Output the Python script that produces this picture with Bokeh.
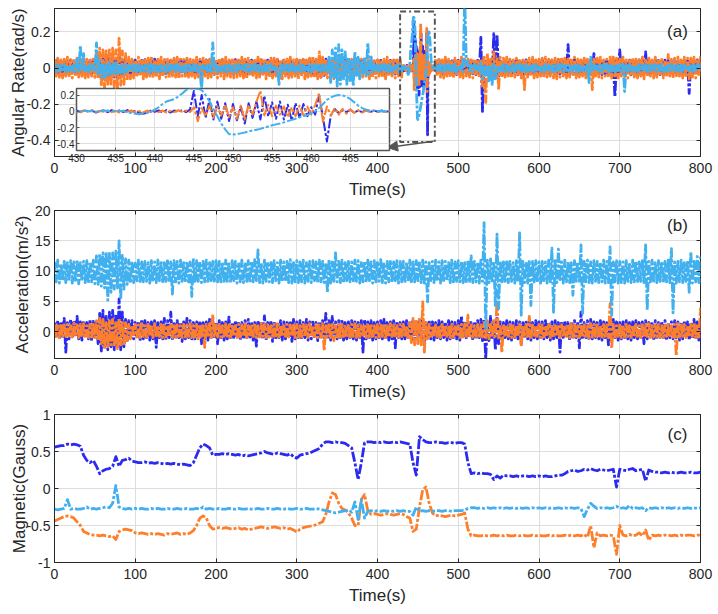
import numpy as np
from bokeh.plotting import figure
from bokeh.layouts import column
from bokeh.models import (Range1d, LinearAxis, FixedTicker, CustomJSTickFormatter,
                          Legend, LegendItem, Label, BoxAnnotation, Arrow, NormalHead)
from bokeh.embed import file_html
from bokeh.resources import INLINE

FONT = "Liberation Sans"
INK = "#262626"
GRID = "#dedede"
C_X, C_Y, C_Z = "#2b2bf0", "#fd7f2b", "#41b0ef"
DASH = "10 2 3 2"

# ---------------- gyroscope (mrad/s) ----------------
# per 4 s bin: local maximum (_hi) and minimum (_lo); 0-428 s and 472-800 s
gyro_x_pre_hi = [40,45,38,42,40,45,40,42,45,38,44,40,42,
                 50,55,60,65,55,60,55,65,50,45,40,
                 40,44,38,42,46,40,45,50,42,40,45,38,42,44,40,46,42,45,40,38,44,42,40,45,42,40,44,
                 40,45,38,44,40,46,40,42,45,40,44,40,42,45,38,44,40,42,46,40,44,38,42,40,45,
                 42,45,40,50,45,48,55,45,50,42,40,45,42,40,45,40,42,48,50,45,40,42,46,40,44,42,40,45,42,40,44,40]
gyro_x_pre_lo = [-30,-35,-28,-33,-30,-35,-32,-30,-28,-34,-30,-35,-32,
                 -40,-45,-50,-55,-45,-50,-55,-45,-40,-38,-35,
                 -32,-30,-35,-30,-34,-30,-35,-38,-30,-35,-40,-30,-33,-30,-35,-32,-30,-34,-36,-30,-35,-32,-30,-34,-30,-35,-32,
                 -30,-35,-32,-30,-36,-30,-34,-30,-36,-32,-35,-30,-38,-32,-30,-35,-33,-30,-36,-32,-30,-35,-30,-34,-32,
                 -32,-35,-30,-40,-35,-45,-50,-40,-35,-32,-30,-36,-32,-30,-35,-30,-32,-38,-35,-30,-32,-36,-30,-34,-32,-30,-35,-32,-30,-34,-32,-30]
gyro_x_post_hi = [40,45,42,40,45,40,44,42,40,45,42,40,44,42,
                  170,50,45,40,190,185,40,
                  40,45,42,40,45,40,42,45,40,44,42,40,45,40,42,44,40,45,42,40,
                  130,
                  42,45,40,42,44,40,45,80,42,40,44,42,45,
                  40,
                  42,100,45,40,44,42,40,45,42,90,42,40,45,42,40,44,42,40,45,42,40,44,
                  40,
                  40,42,45,40]
gyro_x_post_lo = [-35,-30,-38,-32,-35,-30,-36,-32,-35,-30,-38,-32,-36,-30,
                  -240,-45,-40,-50,-50,-45,-40,
                  -35,-30,-36,-32,-38,-30,-35,-32,-30,-36,-32,-35,-30,-36,-32,-30,-35,-32,-30,-36,
                  -35,
                  -30,-38,-32,-35,-30,-36,-32,-35,-30,-36,-32,-35,-30,
                  -160,
                  -35,-30,-36,-32,-38,-30,-35,-32,-30,-36,-32,-35,-30,-36,-32,-30,-35,-32,-30,-36,-32,-30,
                  -140,
                  -35,-30,-32,-35]

gyro_y_pre_hi = [50,55,45,50,60,45,50,55,48,52,50,55,50,
                 90,110,100,95,100,110,100,165,95,80,60,
                 50,45,60,50,45,55,65,45,50,60,55,50,45,55,60,50,48,55,50,45,60,50,55,45,50,55,50,
                 55,50,60,45,55,50,45,60,50,55,45,50,60,55,50,45,55,55,50,45,55,50,60,45,50,
                 55,50,45,55,65,50,90,60,50,45,55,50,60,50,45,55,50,60,45,50,55,45,60,50,55,45,50,60,50,45,55,50]
gyro_y_pre_lo = [-45,-50,-55,-45,-50,-55,-48,-50,-45,-55,-50,-45,-52,
                 -60,-100,-110,-90,-100,-105,-110,-95,-90,-70,-60,
                 -55,-50,-45,-60,-50,-45,-55,-50,-60,-45,-50,-55,-45,-50,-60,-45,-55,-50,-45,-55,-50,-60,-45,-55,-50,-45,-55,
                 -45,-60,-45,-50,-55,-50,-45,-55,-60,-45,-50,-55,-50,-45,-60,-50,-55,-45,-50,-60,-45,-55,-50,-45,-60,
                 -45,-60,-50,-45,-55,-60,-50,-45,-55,-50,-60,-45,-50,-55,-45,-60,-50,-45,-55,-50,-45,-60,-50,-55,-45,-50,-60,-45,-50,-55,-45,-50]
gyro_y_post_hi = [50,55,45,60,50,45,55,50,60,45,50,55,50,45,
                  50,60,80,50,90,60,60,
                  55,60,50,45,55,50,45,50,55,60,45,50,55,60,50,45,55,50,60,55,
                  50,
                  55,60,50,45,55,50,45,50,55,60,45,50,60,
                  70,
                  55,50,60,45,50,55,50,45,60,50,55,45,60,50,55,45,75,50,55,60,45,60,
                  55,
                  55,60,50,60]
gyro_y_post_lo = [-45,-50,-55,-45,-50,-55,-45,-50,-55,-45,-50,-55,-45,-50,
                  -110,-190,-50,-60,-55,-120,-50,
                  -50,-45,-55,-50,-45,-55,-120,-50,-45,-55,-50,-45,-55,-50,-45,-55,-60,-50,-45,-55,
                  -50,
                  -45,-55,-50,-45,-55,-50,-120,-45,-50,-55,-45,-50,-55,
                  -55,
                  -55,-45,-50,-55,-45,-50,-55,-45,-60,-50,-45,-55,-50,-45,-55,-50,-45,-55,-50,-45,-55,-50,
                  -60,
                  -50,-55,-45,-55]

gyro_z_pre_hi = [15,20,15,20,15,18,15,60,125,80,15,20,15,
                 140,40,30,20,30,20,30,20,25,20,15,
                 20,15,18,20,15,20,18,15,20,15,10,20,15,18,20,15,20,15,18,20,15,10,15,20,30,140,15,
                 15,20,15,18,20,15,20,15,18,20,15,20,15,18,20,15,20,15,10,15,20,15,18,20,15,
                 20,15,18,20,15,20,15,18,20,60,100,110,130,100,90,60,40,90,60,30,60,140,60,20,15,18,20,15,20,15,18,20]
gyro_z_pre_lo = [-20,-15,-10,-20,-15,-18,-20,-15,-10,-15,-20,-15,-18,
                 -30,-50,-60,-40,-30,-40,-30,-25,-30,-20,-18,
                 -15,-20,-18,-15,-20,-25,-15,-20,-18,-15,-20,-15,-18,-20,-15,-20,-18,-15,-20,-15,-20,-120,-15,-20,-18,-15,-20,
                 -15,-20,-18,-15,-20,-18,-15,-20,-15,-18,-20,-15,-20,-18,-15,-20,-15,-18,-90,-15,-20,-18,-15,-20,-15,
                 -20,-15,-18,-20,-15,-20,-18,-15,-20,-80,-60,-100,-90,-60,-90,-70,-100,-40,-60,-30,-40,-30,-20,-15,-18,-20,-15,-20,-18,-15,-20,-15]
gyro_z_post_hi = [15,20,15,18,20,15,20,15,18,400,40,15,20,15,
                  30,20,15,18,20,15,15,
                  20,15,18,20,15,20,15,18,20,15,20,15,18,20,15,20,15,18,20,15,
                  15,
                  20,15,18,20,15,20,60,15,20,15,18,20,15,
                  20,
                  15,18,20,15,20,15,18,20,15,20,15,18,20,15,20,15,18,20,15,20,15,18,
                  15,
                  20,15,18,20]
gyro_z_post_lo = [-20,-15,-18,-20,-15,-18,-20,-15,-20,20,-15,-20,-18,-15,
                  -60,-40,-80,-90,-60,-20,-15,
                  -18,-20,-15,-20,-18,-15,-20,-18,-15,-20,-18,-15,-20,-15,-18,-20,-15,-20,-18,-15,
                  -20,
                  -15,-20,-18,-15,-20,-80,-20,-15,-18,-20,-15,-20,-18,
                  -20,
                  -15,-18,-130,-20,-15,-18,-20,-15,-20,-18,-15,-20,-18,-15,-20,-18,-15,-20,-15,-18,-20,-15,
                  -15,
                  -20,-18,-15,-20]

# 0.5 s samples across 430-470 s (the zoomed window)
gyro_x_zoom = [10,-10,15,-5,10,-15,5,10,-10,15,-5,10,-10,15,-10,5,-20,-30,-15,10,-5,
               10,-10,15,-15,10,-5,15,-10,20,250,-60,200,-80,150,-100,120,-90,100,-120,
               90,-110,60,-150,100,-80,120,-100,190,-60,110,-90,120,-100,80,-110,100,-80,90,-60,50,
               -40,200,-80,-370,-50,30,-20,15,-10,20,-15,10,-10,15,-10,10,-5,10,-10,5]
gyro_y_zoom = [5,-10,10,-5,15,-10,5,-5,10,-10,5,-15,10,-5,10,-10,5,-15,10,-10,15,
               -10,10,-15,5,-10,15,-5,10,-10,50,-120,40,-60,70,-80,60,-50,80,-70,
               50,-90,70,-100,80,-40,120,250,-50,80,-60,70,-40,60,-70,50,-60,70,-50,60,-40,
               80,220,-130,60,-50,40,-40,30,-30,25,-20,15,-15,10,-10,15,-10,5,-10,10]
gyro_z_zoom = [5,0,10,0,5,-5,0,10,5,0,10,5,0,-10,-20,-30,-35,-30,-20,-5,20,
               50,90,120,135,150,180,220,260,280,280,275,260,200,120,30,-60,-150,-220,-280,
               -285,-280,-270,-260,-245,-235,-225,-215,-200,-185,-170,-160,-150,-135,-120,-105,-90,-75,-60,-45,-25,
               0,40,90,140,170,190,200,195,180,150,110,70,40,20,10,5,0,5,0,0]

# ---------------- accelerometer (m/s^2): per 4 s bin max / min ----------------
acc_x_hi = [1.5,1.8,1.6,2.2,1.5,2.0,1.8,2.5,1.6,1.8,1.5,2.0,1.7,
            1.8,3.0,3.5,2.5,3.2,3.5,2.8,5.4,3.2,2.0,1.8,
            1.8,1.5,1.6,2.0,1.8,1.5,1.6,1.8,1.5,1.6,2.2,1.8,3.2,1.6,1.8,1.5,1.6,2.2,1.8,1.5,1.6,1.8,1.5,1.6,2.0,1.8,1.5,
            1.8,1.5,1.6,2.4,1.5,1.8,1.6,1.5,1.8,2.0,1.6,1.5,1.8,1.6,2.6,1.5,1.8,1.6,1.5,1.8,1.6,1.5,1.8,2.0,1.6,
            1.8,1.5,2.0,1.6,1.8,1.5,1.6,1.8,3.0,1.8,2.5,1.6,1.8,2.0,1.5,1.6,1.8,1.6,1.5,1.8,2.0,1.6,1.8,1.5,1.6,1.8,2.0,1.5,1.6,1.8,1.6,1.5,
            1.6,1.8,1.5,2.0,1.6,1.8,2.2,1.5,1.8,1.6,1.5,1.8,1.6,1.5,1.8,1.6,1.5,1.8,2.6,1.6,1.8,1.5,1.6,1.8,2.0,
            2.0,1.5,2.5,1.8,2.5,1.6,1.5,1.8,1.6,1.5,1.8,1.6,1.5,1.8,1.6,1.5,1.8,1.6,
            1.6,1.8,1.5,1.6,1.8,1.5,1.6,1.8,1.5,1.6,1.8,1.6,3.2,1.5,1.8,2.0,1.6,1.5,1.8,1.6,1.5,1.8,2.0,1.6,1.5,
            1.6,1.8,1.5,1.6,1.8,1.5,1.6,1.8,1.5,1.6,1.8,1.5,1.6,1.8,1.5,1.6,1.8,1.6,1.5,1.8,1.6,1.5,2.0,1.6,1.8]
acc_x_lo = [-1.0,-1.2,-1.0,-3.4,-1.2,-1.0,-0.8,-1.2,-1.4,-1.0,-1.2,-1.5,-1.0,
            -2.0,-3.2,-2.8,-3.0,-2.5,-3.0,-2.5,-3.0,-2.5,-1.5,-1.2,
            -1.2,-1.0,-1.5,-1.2,-1.0,-1.4,-1.2,-2.6,-1.0,-1.2,-1.4,-1.0,-1.4,-1.2,-1.0,-1.6,-1.2,-1.0,-1.4,-1.2,-1.0,-2.0,-1.2,-1.4,-1.0,-1.2,-2.0,
            -1.0,-1.4,-1.2,-1.0,-1.2,-1.0,-1.4,-1.2,-1.0,-1.2,-1.4,-2.4,-1.0,-1.2,-1.4,-1.0,-1.6,-1.2,-1.0,-1.4,-1.2,-1.0,-1.6,-1.2,-1.0,
            -1.2,-1.0,-1.4,-1.2,-1.0,-1.5,-1.2,-1.0,-1.2,-1.4,-1.0,-1.2,-1.0,-1.4,-1.2,-1.0,-1.2,-1.4,-1.0,-3.4,-1.2,-1.0,-1.4,-1.2,-1.0,-1.2,-1.0,-1.4,-1.2,-2.7,-1.0,-1.2,
            -1.2,-1.0,-1.4,-1.2,-1.0,-1.2,-2.5,-1.0,-1.2,-1.4,-1.0,-1.2,-1.0,-1.4,-1.2,-1.0,-1.2,-1.4,-1.0,-1.2,-1.0,-1.4,-1.2,-1.0,-1.5,
            -4.5,-1.5,-1.2,-3.0,-2.0,-1.2,-1.0,-1.2,-1.4,-1.0,-1.2,-2.0,-1.0,-1.2,-1.4,-1.0,-1.2,-1.0,
            -1.2,-1.0,-1.4,-1.2,-1.0,-3.4,-1.2,-1.0,-1.4,-1.2,-1.0,-2.7,-1.2,-1.0,-1.4,-1.2,-1.0,-1.2,-1.4,-1.0,-2.2,-1.2,-1.0,-1.4,-1.2,
            -1.0,-1.2,-1.4,-1.0,-1.2,-1.0,-2.0,-1.2,-1.0,-1.4,-1.2,-1.0,-1.2,-1.4,-1.0,-1.2,-1.0,-1.4,-1.2,-1.0,-1.4,-1.2,-1.0,-1.4,-4.0]
acc_y_hi = [1.2,1.0,1.3,1.1,1.2,1.0,1.4,1.1,1.2,1.3,1.0,1.2,1.4,
            1.8,2.2,2.0,1.5,1.8,2.0,1.5,2.2,1.8,1.5,1.2,
            1.0,1.2,1.1,1.3,1.0,1.2,1.1,1.3,1.0,1.2,1.1,1.0,1.2,1.3,1.1,1.0,1.2,1.1,1.3,1.0,1.2,1.1,1.0,1.2,1.3,2.8,1.1,
            1.2,1.0,1.3,1.1,1.2,1.0,1.2,1.1,1.3,1.0,1.2,1.1,1.0,1.3,1.2,1.1,1.0,1.2,1.3,1.1,1.0,1.2,1.1,1.3,1.2,
            1.0,1.2,1.1,1.3,1.0,1.2,1.1,1.3,1.0,1.5,1.2,1.0,1.4,1.2,1.1,1.0,1.2,1.3,1.1,1.0,1.2,1.1,1.3,1.0,1.2,1.1,1.0,1.2,1.3,1.1,1.0,1.2,
            1.2,1.0,1.5,2.2,2.0,2.3,4.9,1.5,1.2,1.0,1.1,1.0,1.2,1.1,1.0,1.2,1.1,1.0,1.2,1.3,2.7,1.1,1.0,1.2,1.1,
            1.5,1.8,1.2,1.8,5.2,1.2,1.0,1.1,1.2,1.0,1.1,1.2,1.0,1.2,2.5,1.1,1.0,1.2,
            1.1,1.0,1.2,1.1,1.0,1.2,1.1,1.0,1.2,1.3,1.1,1.0,1.2,1.1,1.0,1.3,1.2,1.1,1.0,1.2,1.1,4.6,1.2,1.0,1.1,
            1.1,1.2,1.0,1.1,1.2,1.0,1.1,1.2,1.3,1.0,1.1,1.2,1.0,1.1,1.2,1.0,1.2,1.3,1.1,1.2,1.0,1.2,1.5,1.3,3.8]
acc_y_lo = [-0.8,-1.0,-0.9,-0.8,-1.0,-0.9,-0.8,-1.0,-0.9,-0.8,-1.0,-0.9,-1.0,
            -1.5,-2.0,-2.8,-2.5,-2.2,-2.5,-2.8,-2.2,-2.0,-1.5,-1.2,
            -0.8,-0.9,-1.0,-0.8,-0.9,-0.8,-1.0,-0.9,-0.8,-1.0,-0.9,-0.8,-1.0,-0.9,-0.8,-1.0,-0.9,-0.8,-1.0,-0.9,-1.2,-0.8,-2.6,-0.9,-1.0,-0.8,-0.9,
            -0.9,-0.8,-1.0,-0.9,-0.8,-1.0,-0.9,-0.8,-1.0,-0.9,-0.8,-1.0,-0.9,-0.8,-1.0,-0.9,-0.8,-1.0,-0.9,-0.8,-1.0,-0.9,-0.8,-1.0,-0.9,
            -0.9,-0.8,-1.0,-0.9,-0.8,-1.0,-0.9,-3.2,-0.8,-1.0,-1.5,-1.2,-0.9,-0.8,-1.0,-0.9,-0.8,-1.0,-0.9,-0.8,-1.0,-0.9,-0.8,-1.0,-0.9,-0.8,-1.0,-0.9,-0.8,-1.0,-0.9,-0.8,
            -0.9,-1.0,-1.8,-2.2,-2.0,-2.2,-3.4,-1.2,-0.8,-0.9,-0.8,-1.0,-0.9,-0.8,-1.0,-0.9,-0.8,-1.0,-0.9,-0.8,-1.0,-0.9,-0.8,-1.0,-0.9,
            -1.0,-1.2,-0.9,-0.8,-1.0,-3.5,-0.9,-0.8,-1.0,-0.9,-0.8,-2.5,-0.9,-0.8,-1.0,-0.9,-0.8,-1.0,
            -0.9,-0.8,-1.0,-0.9,-0.8,-1.0,-0.9,-0.8,-1.0,-0.9,-0.8,-1.0,-0.9,-0.8,-1.0,-0.9,-0.8,-1.0,-0.9,-0.8,-1.0,-2.8,-0.9,-0.8,-1.0,
            -0.9,-0.8,-1.0,-0.9,-0.8,-1.0,-0.9,-0.8,-1.0,-0.9,-0.8,-1.0,-0.9,-0.8,-1.0,-0.9,-4.0,-0.9,-0.8,-1.0,-0.9,-0.8,-1.0,-0.9,-1.0]
acc_z_hi = [11.5,11.8,11.2,11.6,11.4,11.7,11.5,11.8,11.4,11.6,11.7,11.5,11.8,
            12.5,12.8,13.0,13.2,12.9,13.0,13.3,15.0,12.6,12.0,11.8,
            11.6,11.3,11.8,11.5,11.6,11.4,11.7,11.5,11.8,11.6,11.4,11.9,11.5,11.7,11.6,11.8,11.4,11.6,11.5,11.9,11.7,11.5,11.6,11.8,11.4,11.6,11.7,
            11.6,11.4,11.8,11.5,11.7,11.6,11.4,11.8,11.5,11.7,11.6,11.9,13.5,11.4,11.8,11.5,11.6,11.7,11.4,11.8,11.5,11.6,11.9,11.4,11.7,
            11.5,11.8,11.4,11.6,11.7,11.5,11.8,11.6,11.4,11.9,11.5,13.0,11.6,11.8,11.4,11.6,11.5,11.8,11.7,11.4,11.6,11.8,11.5,11.7,11.6,11.9,11.4,11.6,11.8,11.5,11.7,11.6,
            11.6,11.4,11.8,11.5,11.7,11.6,11.8,11.5,11.4,11.6,11.8,11.5,11.7,11.6,11.4,11.8,11.5,11.7,11.6,11.4,11.8,12.5,11.6,11.5,11.8,
            18.0,11.8,12.0,11.6,16.1,11.7,11.5,11.8,11.6,11.4,11.7,16.3,11.6,11.5,11.8,11.6,11.7,11.5,
            11.6,11.5,11.8,13.8,11.7,13.6,11.5,11.8,11.6,11.4,11.7,11.5,14.3,11.6,11.8,11.5,11.7,11.6,11.4,11.8,11.6,14.0,11.5,11.7,11.6,
            11.5,11.7,11.4,11.8,11.6,11.5,11.7,14.3,11.6,11.8,11.4,11.7,11.5,11.6,11.8,13.7,11.5,11.6,11.8,11.4,11.7,13.2,11.6,12.4,12.2]
acc_z_lo = [8.2,8.0,8.4,8.1,8.3,8.0,8.2,7.9,8.3,8.1,8.0,8.2,7.9,
            7.8,7.5,7.2,5.2,6.5,7.0,7.2,5.3,7.0,7.8,8.0,
            8.1,8.4,8.0,8.2,8.3,8.0,8.2,8.1,8.4,8.0,8.3,8.1,6.2,8.2,8.0,8.3,8.1,8.2,5.8,8.0,8.3,8.1,8.2,8.0,8.4,8.1,8.2,
            8.2,8.0,8.3,8.1,8.4,8.0,8.2,8.1,8.3,8.0,8.2,8.4,8.1,8.0,8.3,8.2,8.1,8.4,8.0,8.2,8.3,8.1,8.0,8.2,8.1,
            8.2,8.0,8.3,8.1,8.4,8.0,8.2,8.1,6.5,8.0,8.3,8.2,8.1,8.0,8.4,8.2,8.1,8.3,8.0,8.2,8.1,8.4,8.0,8.2,8.3,8.1,8.0,8.2,8.1,8.4,8.0,8.2,
            8.1,8.3,8.0,8.2,8.4,8.1,8.0,4.9,8.2,8.1,8.3,8.0,8.2,8.4,8.1,8.0,8.3,8.2,8.1,8.0,8.3,8.1,8.2,8.0,8.3,
            0.5,8.1,8.0,4.3,3.8,8.2,8.0,8.1,8.3,8.0,8.2,2.7,8.1,8.0,4.3,8.2,8.1,8.0,
            8.1,8.0,8.2,3.2,8.1,8.3,8.0,8.2,8.1,6.0,8.3,8.0,3.0,8.2,8.1,8.0,8.3,8.1,8.2,8.0,8.1,2.7,8.2,8.0,8.1,
            8.0,8.3,8.1,8.2,8.0,8.3,8.1,3.5,8.2,8.0,8.1,8.3,8.0,8.2,8.1,3.1,8.0,8.2,8.1,8.3,6.5,8.0,8.2,8.1,7.5]

# ---------------- magnetometer (Gauss), 4 s samples ----------------
mag_x = [0.56,0.57,0.58,0.58,0.60,0.59,0.60,0.59,
         0.57,0.45,0.38,0.35,0.38,
         0.30,0.20,0.24,0.26,0.27,0.30,
         0.43,0.30,0.38,0.39,0.41,0.37,
         0.36,0.35,0.35,0.36,0.34,0.35,0.34,0.35,0.34,0.33,0.34,0.33,0.34,0.33,0.32,0.33,0.32,0.31,
         0.35,0.45,0.55,0.60,0.58,0.55,0.45,
         0.46,0.46,0.47,0.46,0.47,0.46,0.45,0.46,0.44,0.45,0.44,0.45,0.46,0.47,0.48,0.50,0.48,0.47,0.46,0.48,
         0.47,0.46,0.45,0.47,0.43,0.41,0.45,0.46,0.47,0.48,0.50,0.52,0.54,
         0.60,0.63,0.63,0.62,0.63,0.62,0.62,0.61,0.58,
         0.55,0.35,0.12,0.35,0.62,
         0.63,0.63,0.62,0.63,0.62,0.63,0.62,0.62,0.63,0.62,0.63,0.62,0.61,
         0.60,0.35,0.18,0.70,0.66,
         0.63,0.62,0.62,0.63,0.62,0.62,0.61,0.62,0.62,0.61,0.62,0.62,0.60,
         0.35,0.20,0.21,0.20,0.21,0.20,0.20,0.19,
         0.12,0.17,0.14,
         0.18,0.17,0.17,0.16,0.17,0.16,0.17,0.17,0.16,0.17,0.16,0.17,0.16,0.17,0.16,0.16,0.17,0.18,0.18,0.20,0.23,
         0.24,0.25,0.23,0.24,0.26,0.25,0.27,0.25,0.24,0.26,0.25,0.24,0.25,0.26,
         0.02,0.26,
         0.25,0.24,0.26,0.27,0.24,0.25,0.26,
         0.10,0.25,
         0.23,0.22,0.22,0.21,0.22,0.21,0.22,0.21,0.21,0.22,0.21,0.21,0.22,0.21,0.21,0.22]
mag_y = [-0.44,-0.42,-0.40,-0.38,-0.37,-0.38,-0.40,-0.45,
         -0.50,-0.58,-0.60,-0.62,-0.63,
         -0.63,-0.64,-0.63,-0.64,-0.65,-0.64,
         -0.69,-0.58,-0.56,-0.55,-0.56,-0.57,
         -0.60,-0.61,-0.60,-0.61,-0.62,-0.61,-0.62,-0.61,-0.62,-0.63,-0.61,-0.62,-0.61,-0.60,-0.62,-0.61,-0.62,-0.60,
         -0.57,-0.50,-0.40,-0.37,-0.40,-0.50,-0.55,
         -0.54,-0.53,-0.54,-0.53,-0.54,-0.55,-0.54,-0.53,-0.55,-0.54,-0.56,-0.55,-0.54,-0.53,-0.52,-0.53,-0.54,-0.53,-0.52,-0.53,
         -0.54,-0.53,-0.55,-0.54,-0.56,-0.59,-0.55,-0.53,-0.52,-0.51,-0.50,-0.49,-0.47,
         -0.45,-0.35,-0.18,-0.06,-0.08,-0.20,-0.27,-0.29,-0.33,
         -0.40,-0.50,-0.50,-0.15,-0.08,
         -0.30,-0.35,-0.34,-0.35,-0.36,-0.35,-0.34,-0.35,-0.36,-0.35,-0.34,-0.35,-0.38,
         -0.40,-0.58,-0.55,-0.25,-0.02,
         0.02,-0.20,-0.33,-0.37,-0.36,-0.37,-0.38,-0.37,-0.36,-0.37,-0.36,-0.35,-0.33,
         -0.55,-0.64,-0.63,-0.64,-0.64,-0.63,-0.64,-0.64,
         -0.63,-0.64,-0.63,
         -0.64,-0.63,-0.64,-0.64,-0.63,-0.64,-0.63,-0.64,-0.64,-0.63,-0.64,-0.63,-0.64,-0.64,-0.63,-0.64,-0.63,-0.64,-0.64,-0.63,-0.64,
         -0.63,-0.64,-0.63,-0.64,-0.62,-0.66,-0.50,-0.80,-0.60,-0.64,-0.63,-0.64,-0.63,-0.64,
         -0.89,-0.50,
         -0.63,-0.64,-0.62,-0.64,-0.63,-0.60,-0.64,
         -0.56,-0.70,
         -0.63,-0.64,-0.63,-0.64,-0.63,-0.63,-0.64,-0.63,-0.64,-0.63,-0.64,-0.63,-0.63,-0.64,-0.63,-0.63]
mag_z = [-0.28,-0.29,-0.28,-0.27,-0.15,-0.28,-0.27,-0.28,
         -0.28,-0.27,-0.25,-0.28,-0.27,
         -0.28,-0.27,-0.26,-0.25,-0.26,-0.20,
         0.04,-0.25,-0.27,-0.28,-0.27,-0.28,
         -0.27,-0.28,-0.27,-0.28,-0.28,-0.27,-0.28,-0.27,-0.28,-0.28,-0.27,-0.28,-0.28,-0.27,-0.28,-0.28,-0.27,-0.28,
         -0.28,-0.27,-0.28,-0.25,-0.28,-0.27,-0.28,
         -0.28,-0.27,-0.28,-0.28,-0.27,-0.28,-0.28,-0.27,-0.28,-0.28,-0.27,-0.28,-0.28,-0.27,-0.28,-0.28,-0.27,-0.28,-0.28,-0.27,
         -0.28,-0.28,-0.27,-0.28,-0.28,-0.27,-0.28,-0.28,-0.27,-0.28,-0.28,-0.27,-0.28,
         -0.29,-0.30,-0.31,-0.32,-0.33,-0.32,-0.31,-0.30,-0.29,
         -0.32,-0.18,-0.42,-0.15,-0.40,
         -0.31,-0.30,-0.31,-0.30,-0.31,-0.30,-0.31,-0.30,-0.31,-0.30,-0.31,-0.30,-0.31,
         -0.31,-0.36,-0.25,-0.31,-0.30,
         -0.31,-0.30,-0.31,-0.30,-0.30,-0.31,-0.30,-0.30,-0.31,-0.30,-0.30,-0.30,-0.29,
         -0.27,-0.26,-0.26,-0.27,-0.26,-0.27,-0.26,-0.27,
         -0.26,-0.27,-0.26,
         -0.27,-0.26,-0.27,-0.26,-0.27,-0.26,-0.27,-0.26,-0.27,-0.26,-0.27,-0.26,-0.27,-0.26,-0.27,-0.26,-0.27,-0.26,-0.27,-0.26,-0.27,
         -0.26,-0.27,-0.26,-0.27,-0.38,-0.28,-0.20,-0.24,-0.27,-0.26,-0.27,-0.26,-0.27,-0.26,
         -0.24,-0.27,
         -0.26,-0.27,-0.23,-0.27,-0.26,-0.27,-0.26,
         -0.30,-0.26,
         -0.27,-0.26,-0.27,-0.26,-0.27,-0.26,-0.27,-0.26,-0.27,-0.26,-0.27,-0.26,-0.27,-0.26,-0.27,-0.26]

series_names = ["X", "Y", "Z"]
time_ticks = list(range(0, 801, 100))
zoom_ticks = list(range(430, 466, 5))

BIN = 4.0  # seconds per max/min bin
t_pre = np.arange(0, 429, BIN)
t_post = np.arange(472, 801, BIN)
t_zoom = np.arange(430, 470.25, 0.5)
t_bins = np.arange(0, 801, BIN)
t_mag = np.arange(0, 801, BIN)


def minmax_trace(t0, hi, lo):
    """Draw each bin as its maximum followed by its minimum half a bin later."""
    assert len(t0) == len(hi) == len(lo), (len(t0), len(hi), len(lo))
    t = np.empty(2 * len(t0))
    y = np.empty(2 * len(t0))
    t[0::2], t[1::2] = t0, t0 + BIN / 2
    y[0::2], y[1::2] = hi, lo
    return t, y


def gyro_series(pre_hi, pre_lo, zoom, post_hi, post_lo):
    tp, yp = minmax_trace(t_pre, pre_hi, pre_lo)
    tq, yq = minmax_trace(t_post, post_hi, post_lo)
    assert len(zoom) == len(t_zoom)
    t = np.concatenate([tp, t_zoom, tq])
    y = np.concatenate([yp, np.array(zoom, float), yq]) / 1000.0
    return t, y


gyro = [gyro_series(gyro_x_pre_hi, gyro_x_pre_lo, gyro_x_zoom, gyro_x_post_hi, gyro_x_post_lo),
        gyro_series(gyro_y_pre_hi, gyro_y_pre_lo, gyro_y_zoom, gyro_y_post_hi, gyro_y_post_lo),
        gyro_series(gyro_z_pre_hi, gyro_z_pre_lo, gyro_z_zoom, gyro_z_post_hi, gyro_z_post_lo)]
acc = [minmax_trace(t_bins, acc_x_hi, acc_x_lo),
       minmax_trace(t_bins, acc_y_hi, acc_y_lo),
       minmax_trace(t_bins, acc_z_hi, acc_z_lo)]
for m in (mag_x, mag_y, mag_z):
    assert len(m) == len(t_mag), len(m)
mag = [(t_mag, np.array(m)) for m in (mag_x, mag_y, mag_z)]

colors = [C_X, C_Y, C_Z]
fmt = CustomJSTickFormatter(code="return String(Math.round(tick * 100) / 100);")


def panel(height, border_top, border_bottom, y_range, yticks, ylabel, label_standoff):
    p = figure(width=718, height=height, x_range=Range1d(0, 800), y_range=Range1d(*y_range),
               output_backend="svg", toolbar_location=None,
               min_border_left=54, min_border_right=18,
               min_border_top=border_top, min_border_bottom=border_bottom)
    p.background_fill_color = "white"
    p.border_fill_color = "white"
    p.outline_line_color = INK
    p.outline_line_width = 1
    xt = FixedTicker(ticks=time_ticks)
    yt = FixedTicker(ticks=yticks)
    xa, ya = p.below[0], p.left[0]
    xa.ticker, ya.ticker = xt, yt
    p.xgrid.ticker, p.ygrid.ticker = xt, yt
    for ax in (xa, ya):
        ax.formatter = fmt
        ax.major_tick_in, ax.major_tick_out = 4, 0
        ax.minor_tick_line_color = None
        ax.axis_line_color = INK
        ax.major_tick_line_color = INK
        ax.major_label_text_font = FONT
        ax.major_label_text_font_size = "14px"
        ax.major_label_text_color = INK
        ax.axis_label_text_font = FONT
        ax.axis_label_text_font_size = "17px"
        ax.axis_label_text_font_style = "normal"
        ax.axis_label_text_color = INK
    xa.axis_label = "Time(s)"
    xa.major_label_standoff = 6
    xa.axis_label_standoff = 4
    ya.axis_label = ylabel
    ya.major_label_standoff = 4
    ya.axis_label_standoff = label_standoff
    p.grid.grid_line_color = GRID
    p.grid.grid_line_width = 1
    # mirrored tick marks on the top and right edges of the box
    for loc, ticks in (("above", xt), ("right", yt)):
        ax = LinearAxis(ticker=ticks, formatter=fmt, major_label_text_font_size="1px",
                        major_label_text_color=None, major_label_text_alpha=0,
                        major_label_standoff=0, major_tick_in=4, major_tick_out=0,
                        minor_tick_line_color=None, axis_line_color=None,
                        major_tick_line_color=INK)
        p.add_layout(ax, loc)
    return p


def draw(p, traces, width=2.8):
    rs = []
    for (t, y), c in zip(traces, colors):
        rs.append(p.line(t, y, line_color=c, line_width=width, line_dash=DASH, line_join="round"))
    return rs


def tag(p, x, y, text):
    p.add_layout(Label(x=x, y=y, text=text, text_align="center", text_baseline="middle",
                       text_font=FONT, text_font_size="17px", text_color=INK))


# (a) angular rate
pa = panel(202, 8, 46, (-0.49, 0.33), [-0.4, -0.2, 0, 0.2], "Angular Rate(rad/s)", -5)
draw(pa, gyro)
pa.add_layout(BoxAnnotation(left=428, right=471, bottom=-0.41, top=0.314,
                            fill_color=None, fill_alpha=0, line_alpha=1,
                            line_color="#555555", line_width=2, line_dash="6 3 2 3"))
pa.add_layout(Arrow(end=NormalHead(size=10, fill_color="#555555", line_color="#555555"),
                    x_start=469.5, y_start=-0.405, x_end=412.5, y_end=-0.44,
                    line_color="#555555", line_width=1.5))
tag(pa, 771.5, 0.205, "(a)")

# (b) acceleration
pb = panel(202, 8, 46, (-4.44, 20), [0, 5, 10, 15, 20], "Acceleration(m/s²)", 0)
rb = draw(pb, acc)
legend = Legend(items=[LegendItem(label=n, renderers=[r]) for n, r in zip(series_names, rb)],
                orientation="horizontal", location=(7, 146), padding=0, margin=0,
                spacing=10, glyph_width=57, glyph_height=16, label_standoff=7, label_width=11,
                label_text_font=FONT, label_text_font_size="17px", label_text_color=INK,
                background_fill_alpha=0, border_line_alpha=0)
pb.add_layout(legend)
tag(pb, 771.5, 17.6, "(b)")

# (c) magnetic field
pc = panel(210, 10, 52, (-1, 1), [-1, -0.5, 0, 0.5, 1], "Magnetic(Gauss)", -6)
draw(pc, mag)
tag(pc, 771.5, 0.73, "(c)")

# zoomed window of the angular rate, floated over panel (a)
inset = figure(width=337, height=80, x_range=Range1d(430, 470), y_range=Range1d(-0.48, 0.28),
               output_backend="svg", toolbar_location=None,
               min_border_left=20, min_border_right=2, min_border_top=2, min_border_bottom=16)
inset.styles = {"position": "absolute", "left": "54px", "top": "86px", "z-index": "10"}
inset.border_fill_color = None
inset.background_fill_color = "white"
inset.outline_line_color = "#555555"
inset.outline_line_width = 1.5
ixt = FixedTicker(ticks=zoom_ticks)
iyt = FixedTicker(ticks=[-0.4, -0.2, 0, 0.2])
ixa, iya = inset.below[0], inset.left[0]
ixa.ticker, iya.ticker = ixt, iyt
inset.xgrid.ticker, inset.ygrid.ticker = ixt, iyt
inset.grid.grid_line_color = GRID
for ax in (ixa, iya):
    ax.formatter = fmt
    ax.major_tick_in, ax.major_tick_out = 3, 0
    ax.minor_tick_line_color = None
    ax.axis_line_color = None
    ax.major_tick_line_color = "#555555"
    ax.major_label_text_font = FONT
    ax.major_label_text_font_size = "10px"
    ax.major_label_text_color = INK
ixa.major_label_standoff = 3
iya.major_label_standoff = 2
draw(inset, gyro, width=2)

html = file_html([column(pa, pb, pc, spacing=0), inset], INLINE, title="IMU signals")
open("out.html", "w").write(html)
